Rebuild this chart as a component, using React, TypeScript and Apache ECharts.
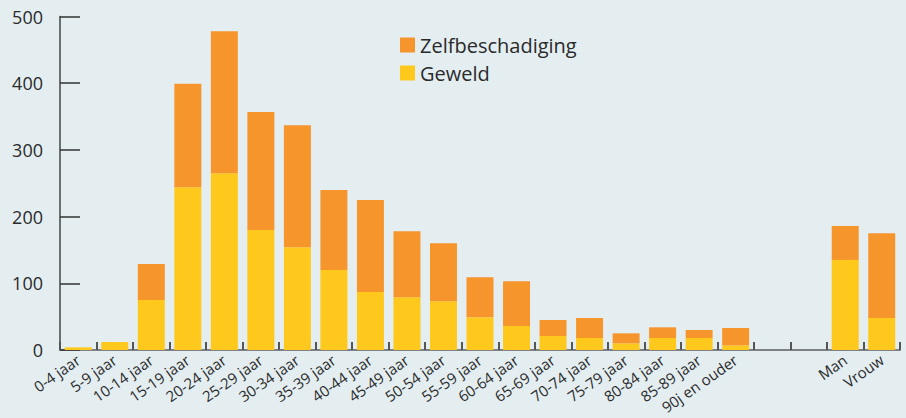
import React, { useEffect, useRef } from "react";
import * as echarts from "echarts";

const categories = [
  "0-4 jaar", "5-9 jaar", "10-14 jaar", "15-19 jaar", "20-24 jaar", "25-29 jaar",
  "30-34 jaar", "35-39 jaar", "40-44 jaar", "45-49 jaar", "50-54 jaar", "55-59 jaar",
  "60-64 jaar", "65-69 jaar", "70-74 jaar", "75-79 jaar", "80-84 jaar", "85-89 jaar",
  "90j en ouder", "", " ", "Man", "Vrouw",
];

const geweld = [4, 12, 75, 244, 265, 180, 154, 120, 87, 79, 73, 49, 36, 21, 18, 10, 18, 18, 7, null, null, 135, 48];
const zelfbeschadiging = [0, 0, 54, 155, 213, 177, 183, 120, 138, 99, 87, 60, 67, 24, 30, 15, 16, 12, 26, null, null, 51, 127];

const yTicks = { min: 0, max: 500, interval: 100 };

export default function App() {
  const ref = useRef<HTMLDivElement>(null);
  useEffect(() => {
    if (!ref.current) return;
    document.body.style.margin = "0";
    const chart = echarts.init(ref.current, undefined, { renderer: "svg" });
    const font = "'Open Sans', 'Noto Sans', sans-serif";
    chart.setOption({
      animation: false,
      backgroundColor: "#e4eef1",
      textStyle: { fontFamily: font },
      legend: {
        orient: "vertical",
        left: 395,
        top: 30,
        itemWidth: 15,
        itemHeight: 15,
        itemGap: 8,
        icon: "rect",
        data: ["Zelfbeschadiging", "Geweld"],
        textStyle: { fontSize: 20, color: "#2a2a2a", fontFamily: font },
      },
      grid: { left: 60, right: 6, top: 16.5, bottom: 68, containLabel: false },
      xAxis: {
        type: "category",
        data: categories,
        boundaryGap: true,
        axisLine: { show: true, lineStyle: { color: "#7d8084", width: 2 } },
        axisTick: { show: true, inside: true, length: 8, lineStyle: { color: "#555", width: 2 } },
        axisLabel: {
          interval: 0,
          rotate: 35,
          fontSize: 15,
          color: "#2a2a2a",
          fontFamily: font,
          margin: 8,
        },
      },
      yAxis: {
        type: "value",
        min: yTicks.min,
        max: yTicks.max,
        interval: yTicks.interval,
        splitLine: { show: false },
        axisLine: { show: true, lineStyle: { color: "#444", width: 1.5 } },
        axisTick: { show: true, inside: true, length: 20, lineStyle: { color: "#333", width: 1.5 } },
        axisLabel: { fontSize: 18, color: "#2a2a2a", fontFamily: font, margin: 17 },
      },
      series: [
        {
          name: "Geweld",
          type: "bar",
          stack: "total",
          barWidth: 27,
          data: geweld,
          itemStyle: { color: "#fec81c" },
        },
        {
          name: "Zelfbeschadiging",
          type: "bar",
          stack: "total",
          barWidth: 27,
          data: zelfbeschadiging,
          itemStyle: { color: "#f7952d" },
        },
      ],
    });
    return () => chart.dispose();
  }, []);
  return <div ref={ref} style={{ width: 906, height: 418 }} />;
}
